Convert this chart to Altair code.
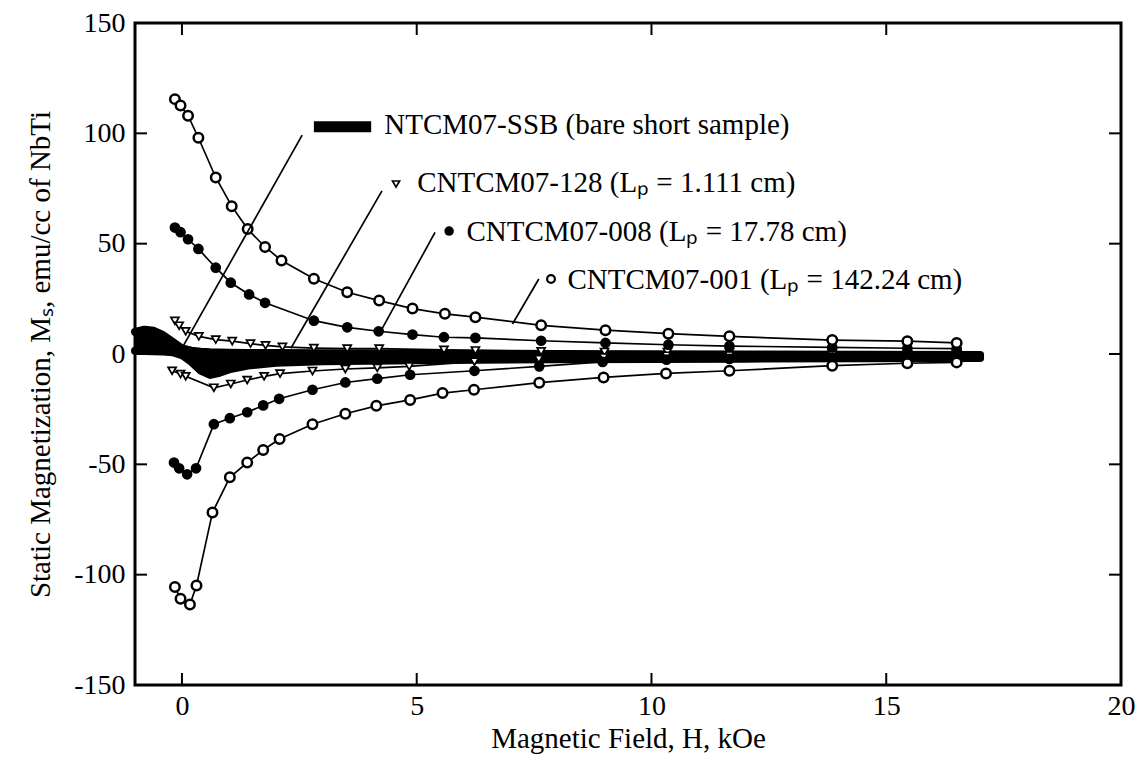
import altair as alt
import pandas as pd

# ---------------- data ----------------
# CNTCM07-001 (open circles)
h001_up = [-0.15, -0.03, 0.13, 0.35, 0.72, 1.06, 1.40, 1.77, 2.12, 2.81, 3.52, 4.20, 4.91, 5.60, 6.25, 7.65, 9.02, 10.36, 11.66, 13.85, 15.45, 16.50]
m001_up = [115.5, 112.6, 108.0, 98.0, 80.0, 67.0, 56.6, 48.5, 42.4, 34.1, 28.0, 24.2, 20.6, 18.2, 16.7, 13.0, 10.8, 9.2, 8.0, 6.3, 5.8, 5.0]
h001_lo = [-0.15, -0.03, 0.17, 0.31, 0.65, 1.02, 1.39, 1.73, 2.08, 2.78, 3.48, 4.14, 4.86, 5.55, 6.22, 7.61, 8.98, 10.31, 11.66, 13.85, 15.45, 16.50]
m001_lo = [-105.6, -110.9, -113.5, -104.9, -71.8, -55.9, -49.2, -43.5, -38.5, -31.8, -27.1, -23.5, -20.8, -17.7, -16.2, -13.0, -10.6, -8.8, -7.6, -5.3, -4.2, -3.8]

# CNTCM07-008 (filled circles)
h008_up = [-0.15, -0.03, 0.13, 0.35, 0.72, 1.04, 1.43, 1.77, 2.81, 3.52, 4.19, 4.91, 5.58, 6.25, 7.65, 9.02, 10.36, 11.66, 13.85, 15.45, 16.50]
m008_up = [57.3, 55.2, 52.0, 47.6, 39.1, 32.3, 27.0, 23.2, 15.1, 12.1, 10.3, 8.8, 7.6, 7.3, 6.0, 5.0, 4.2, 3.6, 3.0, 2.6, 2.4]
h008_lo = [-0.17, -0.06, 0.11, 0.30, 0.68, 1.02, 1.39, 1.73, 2.07, 2.78, 3.48, 4.16, 4.86, 6.23, 7.61, 8.96, 10.32, 11.66, 13.85, 15.45, 16.50]
m008_lo = [-49.2, -51.8, -54.5, -51.8, -31.8, -29.1, -26.4, -23.3, -20.3, -16.2, -12.9, -11.2, -9.4, -7.6, -5.6, -3.6, -2.6, -2.2, -1.8, -1.5, -1.2]

# CNTCM07-128 (open triangles)
h128_up = [-0.15, -0.06, 0.08, 0.36, 0.72, 1.07, 1.46, 1.78, 2.14, 2.81, 3.52, 4.20, 5.58, 6.25, 7.65, 9.00, 10.34, 11.66, 13.85, 15.45, 16.50]
m128_up = [15.0, 12.8, 10.3, 8.0, 6.5, 5.8, 4.7, 3.9, 3.2, 2.7, 2.4, 2.4, 1.9, 1.6, 1.2, 0.9, 0.9, 0.7, 0.6, 0.5, 0.4]
h128_lo = [-0.21, -0.03, 0.08, 0.68, 1.04, 1.39, 1.75, 2.09, 2.78, 3.48, 4.16, 4.84, 6.23, 7.60, 8.98, 10.32, 11.66, 13.85, 15.45, 16.50]
m128_lo = [-7.6, -9.1, -10.1, -15.3, -13.6, -11.8, -10.1, -8.9, -7.7, -6.8, -6.3, -5.6, -3.5, -2.3, -1.5, -0.8, -0.6, -0.4, -0.3, -0.2]

# NTCM07-SSB (bare short sample, heavy band)
h_ssb = [-1.0, -0.8, -0.6, -0.4, -0.2, 0.0, 0.2, 0.4, 0.6, 0.8, 1.0, 1.4, 2.0, 3.0, 5.0, 8.0, 12.0, 17.0]
m_ssb_up = [10.0, 11.0, 10.5, 8.5, 5.5, 2.5, 1.5, 1.0, 0.8, 0.7, 0.6, 0.5, 0.5, 0.3, 0.2, 0.0, -0.2, -0.4]
m_ssb_lo = [1.5, 1.4, 1.3, 1.1, 0.8, -0.5, -3.5, -7.5, -9.5, -8.5, -7.0, -5.2, -4.0, -3.3, -2.8, -2.4, -2.1, -1.8]

# annotations
ann_text = ["NTCM07-SSB (bare short sample)",
            "CNTCM07-128 (Lₚ = 1.111 cm)",
            "CNTCM07-008 (Lₚ = 17.78 cm)",
            "CNTCM07-001 (Lₚ = 142.24 cm)"]
ann_text_h = [4.31, 5.01, 6.06, 8.21]
ann_text_m = [103.8, 77.5, 55.3, 33.5]
ann_sym_h = [4.56, 5.69, 7.86]
ann_sym_m = [77.0, 55.7, 34.0]
ssb_bar_h = [2.81, 4.03]
ssb_bar_m = 103.0
lead_h1 = [2.56, 4.26, 5.39, 7.60]
lead_m1 = [99.2, 73.9, 55.1, 34.0]
lead_h2 = [0.01, 2.32, 4.24, 7.04]
lead_m2 = [3.0, 2.6, 10.6, 13.6]

x_ticks = [0, 5, 10, 15]
y_ticks = [-100, -50, 0, 50, 100]
x_labels = [0, 5, 10, 15, 20]
y_labels = [-150, -100, -50, 0, 50, 100, 150]

# ---------------- chart ----------------
FONT = "Liberation Serif"
W, H = 986, 662
TICK = 12

xscale = alt.Scale(domain=[-1, 20], nice=False, zero=False)
yscale = alt.Scale(domain=[-150, 150], nice=False, zero=False)
xaxis = alt.Axis(values=x_labels, ticks=False, domain=False, grid=False, labelFlush=False,
                 labelExpr="'' + datum.value", labelPadding=7,
                 title="Magnetic Field, H, kOe", titleY=39)
yaxis = alt.Axis(values=y_labels, ticks=False, domain=False, grid=False, labelFlush=False,
                 labelExpr="'' + datum.value", labelPadding=10,
                 title="Static Magnetization, Mₛ, emu/cc of NbTi", titleX=-80)


def X(f):
    return alt.X(f, type="quantitative", scale=xscale, axis=xaxis)


def Y(f):
    return alt.Y(f, type="quantitative", scale=yscale, axis=yaxis)


def branch_df(h_up, m_up, h_lo, m_lo):
    a = pd.DataFrame({"H": h_up, "M": m_up, "branch": "up"})
    b = pd.DataFrame({"H": h_lo, "M": m_lo, "branch": "lo"})
    return pd.concat([a, b], ignore_index=True)


d001 = branch_df(h001_up, m001_up, h001_lo, m001_lo)
d008 = branch_df(h008_up, m008_up, h008_lo, m008_lo)
d128 = branch_df(h128_up, m128_up, h128_lo, m128_lo)
dssb = pd.DataFrame({"H": h_ssb, "up": m_ssb_up, "lo": m_ssb_lo})
dssb_lines = branch_df(h_ssb, m_ssb_up, h_ssb, m_ssb_lo)

layers = []

# SSB heavy band
layers.append(alt.Chart(dssb).mark_area(color="black", opacity=1)
              .encode(x=X("H"), y=Y("up"), y2="lo"))
layers.append(alt.Chart(dssb_lines).mark_line(color="black", strokeWidth=8, strokeCap="round", strokeJoin="round")
              .encode(x=X("H"), y=Y("M"), detail="branch:N"))

# connecting lines
for d in (d128, d008, d001):
    layers.append(alt.Chart(d).mark_line(color="black", strokeWidth=1.7)
                  .encode(x=X("H"), y=Y("M"), detail="branch:N"))

# symbols
layers.append(alt.Chart(d128).mark_point(shape="triangle-down", filled=True, fill="white",
                                         stroke="black", strokeWidth=1.7, size=65, opacity=1)
              .encode(x=X("H"), y=Y("M")))
layers.append(alt.Chart(d008).mark_point(shape="circle", filled=True, color="black",
                                         size=115, opacity=1)
              .encode(x=X("H"), y=Y("M")))
layers.append(alt.Chart(d001).mark_point(shape="circle", filled=True, fill="white",
                                         stroke="black", strokeWidth=2.5, size=90, opacity=1)
              .encode(x=X("H"), y=Y("M")))

# leader lines
dlead = pd.DataFrame({"h1": lead_h1, "m1": lead_m1, "h2": lead_h2, "m2": lead_m2})
layers.append(alt.Chart(dlead).mark_rule(color="black", strokeWidth=1.7)
              .encode(x=X("h1"), y=Y("m1"), x2="h2", y2="m2"))

# annotation symbols
dbar = pd.DataFrame({"h1": [ssb_bar_h[0]], "h2": [ssb_bar_h[1]], "m": [ssb_bar_m]})
layers.append(alt.Chart(dbar).mark_rule(color="black", strokeWidth=11)
              .encode(x=X("h1"), x2="h2", y=Y("m")))
dsym = pd.DataFrame({"H": ann_sym_h, "M": ann_sym_m, "k": ["tri", "dot", "ring"]})
layers.append(alt.Chart(dsym[dsym.k == "tri"]).mark_point(shape="triangle-down", filled=True, fill="white",
                                                          stroke="black", strokeWidth=1.7, size=50, opacity=1)
              .encode(x=X("H"), y=Y("M")))
layers.append(alt.Chart(dsym[dsym.k == "dot"]).mark_point(shape="circle", filled=True, color="black",
                                                          size=90, opacity=1)
              .encode(x=X("H"), y=Y("M")))
layers.append(alt.Chart(dsym[dsym.k == "ring"]).mark_point(shape="circle", filled=True, fill="white",
                                                           stroke="black", strokeWidth=2.2, size=60, opacity=1)
              .encode(x=X("H"), y=Y("M")))

# annotation texts
dtext = pd.DataFrame({"H": ann_text_h, "M": ann_text_m, "t": ann_text})
layers.append(alt.Chart(dtext).mark_text(align="left", baseline="middle", font=FONT, fontSize=29,
                                         color="black")
              .encode(x=X("H"), y=Y("M"), text="t:N"))

# inward ticks on all four sides
dxt = pd.DataFrame({"v": x_ticks})
dyt = pd.DataFrame({"v": y_ticks})
layers.append(alt.Chart(dxt).mark_rule(color="black", strokeWidth=2)
              .encode(x=X("v"), y=alt.value(H), y2=alt.value(H - TICK)))
layers.append(alt.Chart(dxt).mark_rule(color="black", strokeWidth=2)
              .encode(x=X("v"), y=alt.value(0), y2=alt.value(TICK)))
layers.append(alt.Chart(dyt).mark_rule(color="black", strokeWidth=2)
              .encode(y=Y("v"), x=alt.value(0), x2=alt.value(TICK)))
layers.append(alt.Chart(dyt).mark_rule(color="black", strokeWidth=2)
              .encode(y=Y("v"), x=alt.value(W), x2=alt.value(W - TICK)))

chart = alt.layer(*layers).properties(
    width=W, height=H,
    autosize=alt.AutoSizeParams(type="none"),
    padding={"left": 135, "top": 23, "right": 19, "bottom": 81},
    background="white",
).configure_view(
    stroke="black", strokeWidth=3
).configure_axis(
    labelFont=FONT, labelFontSize=28, labelColor="black",
    titleFont=FONT, titleFontSize=29, titleFontWeight="normal", titleColor="black",
)

chart.save("out.html", embed_options={"renderer": "svg", "actions": False})
